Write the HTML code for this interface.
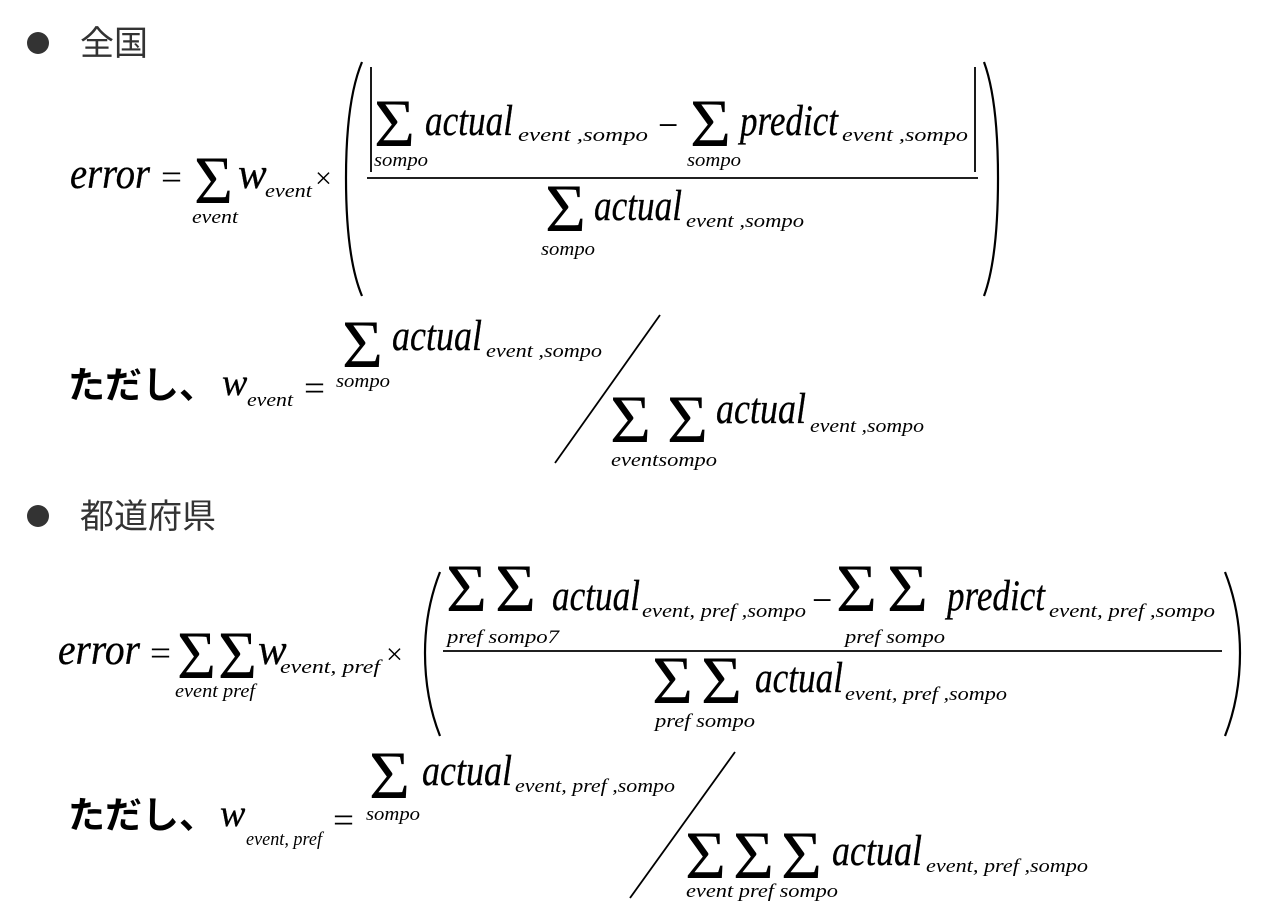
<!DOCTYPE html>
<html><head><meta charset="utf-8"><style>
html,body{margin:0;padding:0;background:#fff;}
svg{display:block}
.m{font-family:"Liberation Serif",serif;font-style:italic;font-size:43px;fill:#000;stroke:#000;stroke-width:0.3}
.s{font-family:"Liberation Serif",serif;font-style:italic;font-size:19px;fill:#000}
.g{font-family:"Liberation Serif",serif;font-size:68px;fill:#000}
.o{font-family:"Liberation Serif",serif;font-size:36px;fill:#000}
.j{font-family:"Liberation Sans","Noto Sans CJK JP",sans-serif;font-size:34px;fill:#333}
.k{font-family:"Liberation Sans","Noto Sans CJK JP",sans-serif;font-size:37px;fill:#000;font-weight:bold}
</style></head><body>
<svg width="1280" height="910" viewBox="0 0 1280 910" xmlns="http://www.w3.org/2000/svg">
<g fill="none" stroke="#000" stroke-width="2.2">
<path d="M362 62 Q346 100 346 178 Q346 258 362 296"/>
<path d="M984 62 Q998 100 998 178 Q998 258 984 296"/>
<line x1="371" y1="67" x2="371" y2="172" stroke-width="1.8"/>
<line x1="975" y1="67" x2="975" y2="172" stroke-width="1.8"/>
<line x1="367" y1="178" x2="978" y2="178" stroke-width="1.8"/>
<line x1="660" y1="315" x2="555" y2="463" stroke-width="1.8"/>
<path d="M440 572 Q425 610 425 653 Q425 698 440 736"/>
<path d="M1225 572 Q1240 610 1240 653 Q1240 698 1225 736"/>
<line x1="443" y1="651" x2="1222" y2="651" stroke-width="1.8"/>
<line x1="735" y1="752" x2="630" y2="898" stroke-width="1.8"/>
</g>
<circle cx="38" cy="43" r="11" fill="#333"/>
<text class="j" x="80" y="55">全国</text>
<circle cx="38" cy="516" r="11" fill="#333"/>
<text class="j" x="80" y="528">都道府県</text>

<!-- formula 1 -->
<text class="m" x="70" y="188" textLength="80" lengthAdjust="spacingAndGlyphs">error</text>
<text class="o" x="161" y="189" textLength="21" lengthAdjust="spacingAndGlyphs">=</text>
<text class="g" x="194" y="203" textLength="39" lengthAdjust="spacingAndGlyphs">Σ</text>
<text class="s" x="192" y="223" textLength="46" lengthAdjust="spacingAndGlyphs">event</text>
<text class="m" x="238" y="188">w</text>
<text class="s" x="265" y="197" textLength="47" lengthAdjust="spacingAndGlyphs">event</text>
<text class="o" x="315" y="188" style="font-size:30px">×</text>

<text class="g" x="374" y="146" textLength="41" lengthAdjust="spacingAndGlyphs">Σ</text>
<text class="s" x="374" y="166" textLength="54" lengthAdjust="spacingAndGlyphs">sompo</text>
<text class="m" x="425" y="135" textLength="88" lengthAdjust="spacingAndGlyphs">actual</text>
<text class="s" x="518" y="141" textLength="130" lengthAdjust="spacingAndGlyphs">event ,sompo</text>
<text class="o" x="658" y="137">−</text>
<text class="g" x="690" y="146" textLength="41" lengthAdjust="spacingAndGlyphs">Σ</text>
<text class="s" x="687" y="166" textLength="54" lengthAdjust="spacingAndGlyphs">sompo</text>
<text class="m" x="740" y="135" textLength="98" lengthAdjust="spacingAndGlyphs">predict</text>
<text class="s" x="842" y="141" textLength="126" lengthAdjust="spacingAndGlyphs">event ,sompo</text>

<text class="g" x="545" y="231" textLength="41" lengthAdjust="spacingAndGlyphs">Σ</text>
<text class="s" x="541" y="255" textLength="54" lengthAdjust="spacingAndGlyphs">sompo</text>
<text class="m" x="594" y="220" textLength="88" lengthAdjust="spacingAndGlyphs">actual</text>
<text class="s" x="686" y="227" textLength="118" lengthAdjust="spacingAndGlyphs">event ,sompo</text>

<text class="k" x="68" y="398">ただし、</text>
<text class="m" x="222" y="395" style="font-size:38px">w</text>
<text class="s" x="247" y="406" textLength="46" lengthAdjust="spacingAndGlyphs">event</text>
<text class="o" x="304" y="400" textLength="21" lengthAdjust="spacingAndGlyphs">=</text>
<text class="g" x="342" y="367" textLength="41" lengthAdjust="spacingAndGlyphs">Σ</text>
<text class="s" x="336" y="387" textLength="54" lengthAdjust="spacingAndGlyphs">sompo</text>
<text class="m" x="392" y="350" textLength="90" lengthAdjust="spacingAndGlyphs">actual</text>
<text class="s" x="486" y="357" textLength="116" lengthAdjust="spacingAndGlyphs">event ,sompo</text>
<text class="g" x="610" y="442" textLength="41" lengthAdjust="spacingAndGlyphs">Σ</text>
<text class="g" x="667" y="442" textLength="41" lengthAdjust="spacingAndGlyphs">Σ</text>
<text class="s" x="611" y="466" textLength="106" lengthAdjust="spacingAndGlyphs">eventsompo</text>
<text class="m" x="716" y="423" textLength="90" lengthAdjust="spacingAndGlyphs">actual</text>
<text class="s" x="810" y="432" textLength="114" lengthAdjust="spacingAndGlyphs">event ,sompo</text>

<!-- formula 2 -->
<text class="m" x="58" y="664" textLength="82" lengthAdjust="spacingAndGlyphs">error</text>
<text class="o" x="150" y="665" textLength="21" lengthAdjust="spacingAndGlyphs">=</text>
<text class="g" x="177" y="678" textLength="39" lengthAdjust="spacingAndGlyphs">Σ</text>
<text class="g" x="218" y="678" textLength="39" lengthAdjust="spacingAndGlyphs">Σ</text>
<text class="s" x="175" y="697" textLength="80" lengthAdjust="spacingAndGlyphs">event pref</text>
<text class="m" x="258" y="664">w</text>
<text class="s" x="280" y="673" textLength="100" lengthAdjust="spacingAndGlyphs">event, pref</text>
<text class="o" x="386" y="664" style="font-size:30px">×</text>

<text class="g" x="446" y="611" textLength="41" lengthAdjust="spacingAndGlyphs">Σ</text>
<text class="g" x="495" y="611" textLength="41" lengthAdjust="spacingAndGlyphs">Σ</text>
<text class="s" x="447" y="643" textLength="112" lengthAdjust="spacingAndGlyphs">pref sompo7</text>
<text class="m" x="552" y="610" textLength="88" lengthAdjust="spacingAndGlyphs">actual</text>
<text class="s" x="642" y="617" textLength="164" lengthAdjust="spacingAndGlyphs">event, pref ,sompo</text>
<text class="o" x="812" y="612">−</text>
<text class="g" x="836" y="611" textLength="41" lengthAdjust="spacingAndGlyphs">Σ</text>
<text class="g" x="887" y="611" textLength="41" lengthAdjust="spacingAndGlyphs">Σ</text>
<text class="s" x="845" y="643" textLength="100" lengthAdjust="spacingAndGlyphs">pref sompo</text>
<text class="m" x="947" y="610" textLength="98" lengthAdjust="spacingAndGlyphs">predict</text>
<text class="s" x="1049" y="617" textLength="166" lengthAdjust="spacingAndGlyphs">event, pref ,sompo</text>

<text class="g" x="652" y="703" textLength="41" lengthAdjust="spacingAndGlyphs">Σ</text>
<text class="g" x="701" y="703" textLength="41" lengthAdjust="spacingAndGlyphs">Σ</text>
<text class="s" x="655" y="727" textLength="100" lengthAdjust="spacingAndGlyphs">pref sompo</text>
<text class="m" x="755" y="692" textLength="88" lengthAdjust="spacingAndGlyphs">actual</text>
<text class="s" x="845" y="700" textLength="162" lengthAdjust="spacingAndGlyphs">event, pref ,sompo</text>

<text class="k" x="68" y="828">ただし、</text>
<text class="m" x="220" y="826" style="font-size:38px">w</text>
<text class="s" x="246" y="845" textLength="76" lengthAdjust="spacingAndGlyphs">event, pref</text>
<text class="o" x="333" y="832" textLength="21" lengthAdjust="spacingAndGlyphs">=</text>
<text class="g" x="369" y="798" textLength="41" lengthAdjust="spacingAndGlyphs">Σ</text>
<text class="s" x="366" y="820" textLength="54" lengthAdjust="spacingAndGlyphs">sompo</text>
<text class="m" x="422" y="785" textLength="90" lengthAdjust="spacingAndGlyphs">actual</text>
<text class="s" x="515" y="792" textLength="160" lengthAdjust="spacingAndGlyphs">event, pref ,sompo</text>
<text class="g" x="685" y="878" textLength="41" lengthAdjust="spacingAndGlyphs">Σ</text>
<text class="g" x="733" y="878" textLength="41" lengthAdjust="spacingAndGlyphs">Σ</text>
<text class="g" x="781" y="878" textLength="41" lengthAdjust="spacingAndGlyphs">Σ</text>
<text class="s" x="686" y="897" textLength="152" lengthAdjust="spacingAndGlyphs">event pref sompo</text>
<text class="m" x="832" y="865" textLength="90" lengthAdjust="spacingAndGlyphs">actual</text>
<text class="s" x="926" y="872" textLength="162" lengthAdjust="spacingAndGlyphs">event, pref ,sompo</text>
</svg>
</body></html>
